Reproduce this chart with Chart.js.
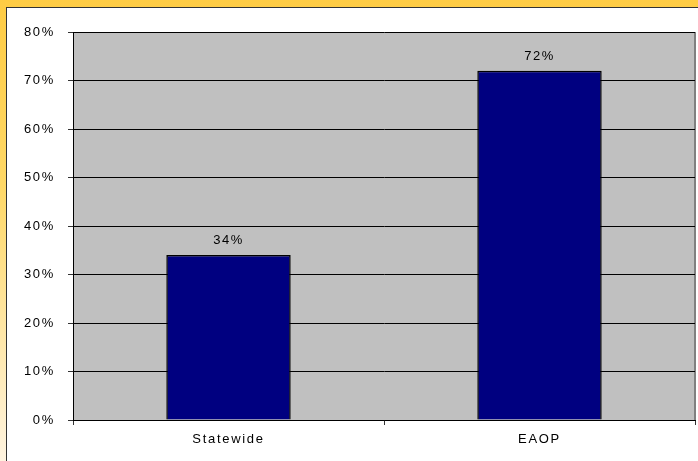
<!DOCTYPE html>
<html>
<head>
<meta charset="utf-8">
<script src="https://cdn.jsdelivr.net/npm/chart.js@4.4.1/dist/chart.umd.min.js"></script>
<style>
  html, body { margin: 0; padding: 0; }
  body {
    width: 698px; height: 461px; overflow: hidden;
    background: linear-gradient(to bottom, #ffcc44 0%, #ffd866 40%, #fff4e0 100%);
    position: relative;
  }
  #frame {
    position: absolute; left: 6px; top: 7px; right: 0; bottom: 0;
    border-left: 1px solid #333; border-top: 1px solid #333;
    background: #fff;
  }
  #chart { position: absolute; left: 0; top: 0; }
</style>
</head>
<body>
<div id="frame"><canvas id="chart" width="691" height="453"></canvas></div>
<script>
var categories = ['Statewide', 'EAOP'];
var values = [34, 72];
var yTicks = [0, 10, 20, 30, 40, 50, 60, 70, 80];

var ctxEl = document.getElementById('chart');

// gray plot area with the gray right edge
var plotBg = {
  id: 'plotBg',
  beforeDraw: function (chart) {
    var a = chart.chartArea, c = chart.ctx;
    c.save();
    c.fillStyle = '#c0c0c0';
    c.fillRect(a.left, a.top, a.right - a.left, a.bottom - a.top);
    c.strokeStyle = '#808080';
    c.lineWidth = 2;
    c.beginPath();
    c.moveTo(a.right, a.top);
    c.lineTo(a.right, a.bottom);
    c.stroke();
    c.restore();
    c.letterSpacing = '1.7px';
  }
};

// value labels above the bars
var barLabels = {
  id: 'barLabels',
  afterDatasetsDraw: function (chart) {
    var c = chart.ctx;
    var meta = chart.getDatasetMeta(0);
    c.save();
    c.letterSpacing = '1.5px';
    c.font = '13px "Liberation Sans", Arial, sans-serif';
    c.fillStyle = '#000';
    c.textAlign = 'center';
    c.textBaseline = 'bottom';
    meta.data.forEach(function (bar, i) {
      c.fillText(values[i] + '%', bar.x, bar.y - 8);
    });
    c.restore();
  }
};

var myChart = new Chart(ctxEl, {
  type: 'bar',
  data: {
    labels: categories,
    datasets: [{
      label: 'Percent',
      data: values,
      backgroundColor: '#000080',
      borderColor: '#000000',
      borderWidth: 1.5,
      barPercentage: 0.4,
      categoryPercentage: 1.0
    }]
  },
  options: {
    responsive: false,
    animation: false,
    devicePixelRatio: 1,
    layout: { padding: { top: 24, right: 3, left: 0, bottom: 0 } },
    plugins: {
      legend: { display: false },
      tooltip: { enabled: false }
    },
    scales: {
      x: {
        offset: true,
        grid: {
          offset: true,
          drawOnChartArea: false,
          drawTicks: true,
          tickLength: 5,
          tickColor: '#333'
        },
        border: { color: '#000', width: 1 },
        ticks: {
          color: '#000',
          padding: 7,
          font: { family: '"Liberation Sans", Arial, sans-serif', size: 13 }
        },
        afterFit: function (scale) { scale.height = 41; }
      },
      y: {
        min: 0,
        max: 80,
        afterBuildTicks: function (scale) {
          scale.ticks = yTicks.map(function (v) { return { value: v }; });
        },
        grid: {
          color: '#000',
          lineWidth: 1,
          drawTicks: true,
          tickLength: 5,
          tickColor: '#333'
        },
        border: { color: '#000', width: 1 },
        ticks: {
          color: '#000',
          padding: 13,
          font: { family: '"Liberation Sans", Arial, sans-serif', size: 13 },
          callback: function (v) { return v + '%'; }
        },
        afterFit: function (scale) { scale.width = 66; }
      }
    }
  },
  plugins: [plotBg, barLabels]
});
</script>
</body>
</html>
